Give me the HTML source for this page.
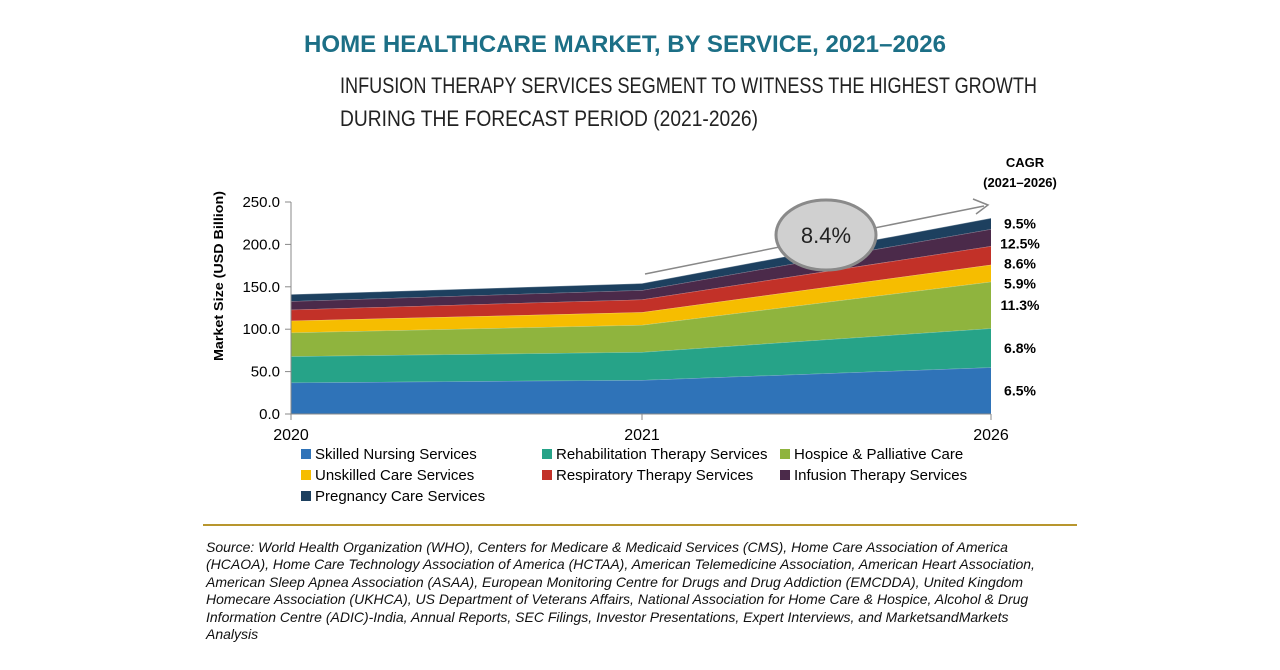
<!DOCTYPE html>
<html><head><meta charset="utf-8">
<style>
body{margin:0;width:1280px;height:670px;background:#fff;overflow:hidden;font-family:"Liberation Sans",sans-serif;}
svg text{font-family:"Liberation Sans",sans-serif;}
.src{position:absolute;left:206px;top:539px;width:852px;font-family:"Liberation Sans",sans-serif;font-style:italic;font-size:14px;line-height:17.4px;color:#111;}
</style></head><body>
<svg id="chart" width="1280" height="670" style="position:absolute;left:0;top:0">
<text x="304" y="52" font-size="24" fill="#1c6f86" font-weight="bold" textLength="642" lengthAdjust="spacingAndGlyphs">HOME HEALTHCARE MARKET, BY SERVICE, 2021–2026</text>
<text x="340" y="93" font-size="22" fill="#222" textLength="697" lengthAdjust="spacingAndGlyphs">INFUSION THERAPY SERVICES SEGMENT TO WITNESS THE HIGHEST GROWTH</text>
<text x="340" y="126" font-size="22" fill="#222" textLength="418" lengthAdjust="spacingAndGlyphs">DURING THE FORECAST PERIOD (2021-2026)</text>
<text x="1025" y="167" font-size="13" font-weight="bold" text-anchor="middle">CAGR</text>
<text x="1020" y="187" font-size="13" font-weight="bold" text-anchor="middle">(2021–2026)</text>
<g id="plot"></g>
<line x1="203" y1="525" x2="1077" y2="525" stroke="#b8962e" stroke-width="2"/>
</svg>
<div class="src">Source: World Health Organization (WHO), Centers for Medicare &amp; Medicaid Services (CMS), Home Care Association of America (HCAOA), Home Care Technology Association of America (HCTAA), American Telemedicine Association, American Heart Association, American Sleep Apnea Association (ASAA), European Monitoring Centre for Drugs and Drug Addiction (EMCDDA), United Kingdom Homecare Association (UKHCA), US Department of Veterans Affairs, National Association for Home Care &amp; Hospice, Alcohol &amp; Drug Information Centre (ADIC)-India, Annual Reports, SEC Filings, Investor Presentations, Expert Interviews, and MarketsandMarkets Analysis</div>
<script>
const years=["2020","2021","2026"];
const seriesNames=["Skilled Nursing Services","Rehabilitation Therapy Services","Hospice & Palliative Care","Unskilled Care Services","Respiratory Therapy Services","Infusion Therapy Services","Pregnancy Care Services"];
const skilled=[37,40,55];
const rehab=[31,33,46];
const hospice=[28,32,55];
const unskilled=[14,15,20];
const respiratory=[13,15,22];
const infusion=[10,11,20];
const pregnancy=[8,8,13];
const cagrLabels=["6.5%","6.8%","11.3%","5.9%","8.6%","12.5%","9.5%"];
const yTicks=[0,50,100,150,200,250];
const overallCagr="8.4%";
const colors=["#2f73b8","#26a388","#8fb43e","#f6bd00","#c23128","#4b2a4a","#1d405f"];
const NS="http://www.w3.org/2000/svg";
const g=document.getElementById('plot');
const xPos=[291,642,991];
const x=i=>xPos[i];
const y=v=>414-v*212/250;
function mk(t,a){const e=document.createElementNS(NS,t);for(const k in a)e.setAttribute(k,a[k]);g.appendChild(e);return e;}
const series=[skilled,rehab,hospice,unskilled,respiratory,infusion,pregnancy];
let base=[0,0,0];
const mids=[];
series.forEach((s,si)=>{
  const top=base.map((b,i)=>b+s[i]);
  let d="M"+years.map((_,i)=>x(i)+","+y(top[i])).join(" L")+" L"+years.map((_,i)=>x(i)+","+y(base[i])).reverse().join(" L")+"Z";
  const p=mk('path',{d:d,fill:colors[si]});
  
  
  const l=mk('polyline',{points:years.map((_,i)=>x(i)+","+y(top[i])).join(" "),fill:"none",stroke:"rgba(255,255,255,0.35)","stroke-width":1});
  
  
  mids.push(y((base[2]+top[2])/2));
  base=top;
});
let prev=-1e9;
for(let si=series.length-1;si>=0;si--){
  let yy=Math.max(mids[si],prev+20);
  prev=yy;
  const t=mk('text',{x:1020,y:yy+5,"font-size":14,"font-weight":"bold","text-anchor":"middle"});
  t.textContent=cagrLabels[si];
  
  
}
const ax=mk('line',{x1:291,y1:y(250),x2:291,y2:414,stroke:"#888"});


const bx=mk('line',{x1:291,y1:414,x2:991,y2:414,stroke:"#888"});


yTicks.forEach(v=>{
  const tk=mk('line',{x1:285,x2:291,y1:y(v),y2:y(v),stroke:"#888"});
  
  
  const t=mk('text',{x:280,y:y(v)+5,"font-size":15,"text-anchor":"end"});
  t.textContent=v.toFixed(1);
  
  
});
years.forEach((yr,i)=>{
  const tk=mk('line',{x1:x(i),x2:x(i),y1:414,y2:420,stroke:"#888"});
  
  
  const t=mk('text',{x:x(i),y:440,"font-size":16,"text-anchor":"middle"});
  t.textContent=yr;
  
  
});
const yt=mk('text',{x:0,y:0,"font-size":13,"font-weight":"bold","text-anchor":"middle",transform:"translate(223,276) rotate(-90)",textLength:"170",lengthAdjust:"spacingAndGlyphs"});
yt.textContent="Market Size (USD Billion)";


const ar=mk('line',{x1:645,y1:274,x2:984,y2:206,stroke:"#888","stroke-width":1.5});


const ah=mk('polyline',{points:"973,199 988,205 976,214",fill:"none",stroke:"#888","stroke-width":1.5});


const el=mk('ellipse',{cx:826,cy:235,rx:50,ry:35,fill:"#d0d0d0",stroke:"#8a8a8a","stroke-width":3});


const et=mk('text',{x:826,y:243,"font-size":22,"text-anchor":"middle",fill:"#222"});
et.textContent=overallCagr;


const lx=[301,542,780];
seriesNames.forEach((n,i)=>{
  const cx=lx[i%3], cy=459+Math.floor(i/3)*21;
  const r=mk('rect',{x:cx,y:cy-10,width:10,height:10,fill:colors[i]});
  
  
  const t=mk('text',{x:cx+14,y:cy,"font-size":15});
  t.textContent=n;
  
  
});
</script>
</body></html>
